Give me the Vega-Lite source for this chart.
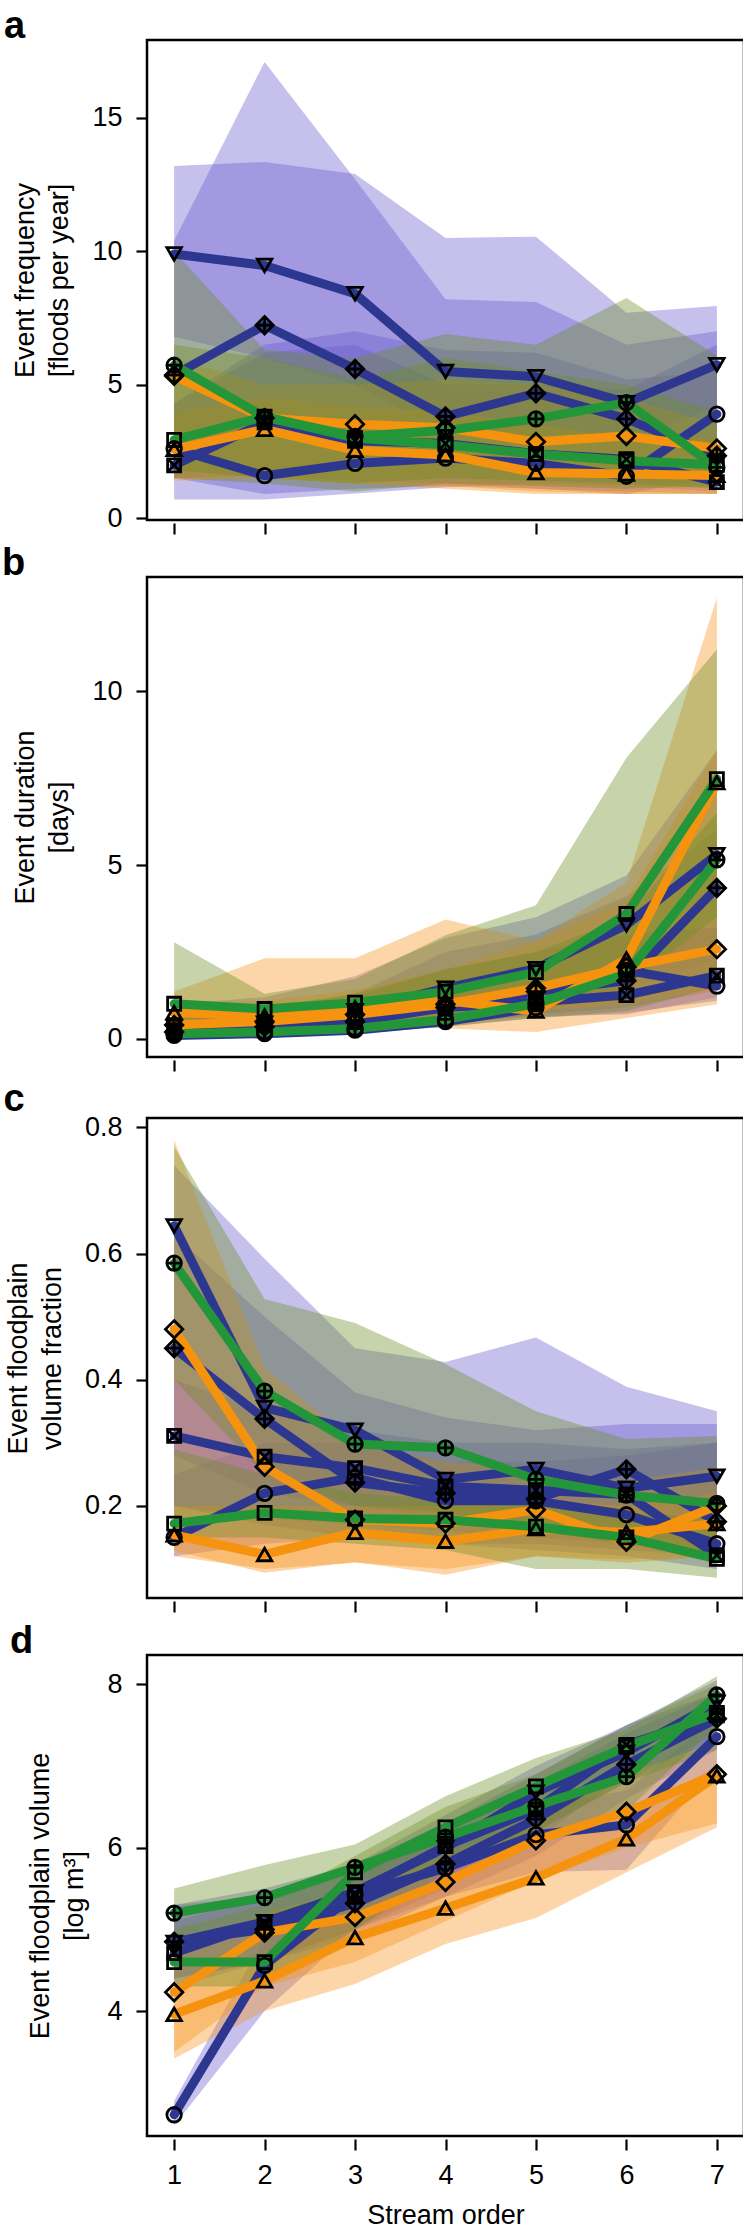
{
"$schema":"https://vega.github.io/schema/vega-lite/v6.json",
"padding":{"left":0,"right":0,"top":6,"bottom":0},
"spacing":6,
"config":{"view":{"stroke":"black","strokeWidth":2.5},"axis":{"domain":false,"grid":false,"tickColor":"black","tickWidth":2.2,"tickSize":11,"labelFont":"Liberation Sans","labelFontSize":27,"labelColor":"black","titleFont":"Liberation Sans","titleFontSize":27,"titleFontWeight":"normal","titleColor":"black","titleLineHeight":34},"title":{"font":"Liberation Sans","fontSize":38,"fontWeight":"bold","color":"black","anchor":"start","frame":"bounds","baseline":"alphabetic","offset":-6}},
"datasets":{"d":[
{"p":"a","s":"tri_down","x":1,"y":9.9,"lo":6.8,"hi":13.2},{"p":"a","s":"tri_down","x":2,"y":9.47,"lo":6.0,"hi":13.35},{"p":"a","s":"tri_down","x":3,"y":8.41,"lo":5.0,"hi":12.9},{"p":"a","s":"tri_down","x":4,"y":5.5,"lo":3.2,"hi":10.5},{"p":"a","s":"tri_down","x":5,"y":5.3,"lo":3.0,"hi":10.55},{"p":"a","s":"tri_down","x":6,"y":4.33,"lo":2.8,"hi":7.7},{"p":"a","s":"tri_down","x":7,"y":5.75,"lo":4.2,"hi":7.95},
{"p":"a","s":"diamond_plus","x":1,"y":5.36,"lo":0.7,"hi":10.4},{"p":"a","s":"diamond_plus","x":2,"y":7.23,"lo":0.7,"hi":17.1},{"p":"a","s":"diamond_plus","x":3,"y":5.59,"lo":0.92,"hi":12.7},{"p":"a","s":"diamond_plus","x":4,"y":3.81,"lo":1.16,"hi":8.2},{"p":"a","s":"diamond_plus","x":5,"y":4.68,"lo":1.3,"hi":8.1},{"p":"a","s":"diamond_plus","x":6,"y":3.72,"lo":1.2,"hi":6.5},{"p":"a","s":"diamond_plus","x":7,"y":2.34,"lo":1.0,"hi":7.0},
{"p":"a","s":"circle","x":1,"y":2.6,"lo":1.5,"hi":4.3},{"p":"a","s":"circle","x":2,"y":1.59,"lo":0.9,"hi":6.2},{"p":"a","s":"circle","x":3,"y":2.05,"lo":1.1,"hi":6.5},{"p":"a","s":"circle","x":4,"y":2.25,"lo":1.2,"hi":5.0},{"p":"a","s":"circle","x":5,"y":2.05,"lo":1.1,"hi":5.0},{"p":"a","s":"circle","x":6,"y":1.57,"lo":0.9,"hi":4.8},{"p":"a","s":"circle","x":7,"y":3.9,"lo":1.5,"hi":6.5},
{"p":"a","s":"square_x","x":1,"y":1.98,"lo":1.5,"hi":4.3},{"p":"a","s":"square_x","x":2,"y":3.59,"lo":1.6,"hi":6.5},{"p":"a","s":"square_x","x":3,"y":2.9,"lo":1.4,"hi":7.0},{"p":"a","s":"square_x","x":4,"y":2.8,"lo":1.3,"hi":6.3},{"p":"a","s":"square_x","x":5,"y":2.41,"lo":1.1,"hi":6.2},{"p":"a","s":"square_x","x":6,"y":2.21,"lo":1.0,"hi":5.2},{"p":"a","s":"square_x","x":7,"y":1.35,"lo":0.9,"hi":5.5},
{"p":"a","s":"diamond","x":1,"y":5.33,"lo":1.5,"hi":6.0},{"p":"a","s":"diamond","x":2,"y":3.75,"lo":1.5,"hi":5.0},{"p":"a","s":"diamond","x":3,"y":3.52,"lo":1.3,"hi":5.0},{"p":"a","s":"diamond","x":4,"y":3.39,"lo":1.2,"hi":5.2},{"p":"a","s":"diamond","x":5,"y":2.86,"lo":1.0,"hi":5.0},{"p":"a","s":"diamond","x":6,"y":3.08,"lo":0.9,"hi":4.5},{"p":"a","s":"diamond","x":7,"y":2.61,"lo":0.9,"hi":3.5},
{"p":"a","s":"tri_up","x":1,"y":2.58,"lo":1.4,"hi":4.0},{"p":"a","s":"tri_up","x":2,"y":3.33,"lo":1.5,"hi":4.5},{"p":"a","s":"tri_up","x":3,"y":2.54,"lo":1.3,"hi":4.2},{"p":"a","s":"tri_up","x":4,"y":2.37,"lo":1.1,"hi":4.0},{"p":"a","s":"tri_up","x":5,"y":1.71,"lo":0.9,"hi":3.5},{"p":"a","s":"tri_up","x":6,"y":1.65,"lo":0.9,"hi":3.0},{"p":"a","s":"tri_up","x":7,"y":1.6,"lo":0.9,"hi":3.0},
{"p":"a","s":"circle_plus","x":1,"y":5.73,"lo":1.8,"hi":10.0},{"p":"a","s":"circle_plus","x":2,"y":3.79,"lo":1.5,"hi":6.3},{"p":"a","s":"circle_plus","x":3,"y":3.06,"lo":1.3,"hi":6.0},{"p":"a","s":"circle_plus","x":4,"y":3.29,"lo":1.5,"hi":6.9},{"p":"a","s":"circle_plus","x":5,"y":3.72,"lo":1.4,"hi":6.5},{"p":"a","s":"circle_plus","x":6,"y":4.33,"lo":1.3,"hi":8.25},{"p":"a","s":"circle_plus","x":7,"y":1.9,"lo":1.1,"hi":6.1},
{"p":"a","s":"square","x":1,"y":2.93,"lo":1.5,"hi":6.5},{"p":"a","s":"square","x":2,"y":3.8,"lo":1.3,"hi":6.0},{"p":"a","s":"square","x":3,"y":3.0,"lo":1.0,"hi":5.2},{"p":"a","s":"square","x":4,"y":2.75,"lo":1.3,"hi":6.0},{"p":"a","s":"square","x":5,"y":2.4,"lo":1.2,"hi":5.5},{"p":"a","s":"square","x":6,"y":2.15,"lo":1.1,"hi":5.0},{"p":"a","s":"square","x":7,"y":2.0,"lo":1.2,"hi":4.0},

{"p":"b","s":"tri_down","x":1,"y":0.35,"lo":0.1,"hi":1.0},{"p":"b","s":"tri_down","x":2,"y":0.45,"lo":0.2,"hi":1.2},{"p":"b","s":"tri_down","x":3,"y":0.81,"lo":0.3,"hi":1.8},{"p":"b","s":"tri_down","x":4,"y":1.46,"lo":0.6,"hi":2.9},{"p":"b","s":"tri_down","x":5,"y":2.02,"lo":0.9,"hi":3.5},{"p":"b","s":"tri_down","x":6,"y":3.28,"lo":1.4,"hi":4.7},{"p":"b","s":"tri_down","x":7,"y":5.3,"lo":2.3,"hi":8.3},
{"p":"b","s":"diamond_plus","x":1,"y":0.2,"lo":0.05,"hi":0.6},{"p":"b","s":"diamond_plus","x":2,"y":0.35,"lo":0.1,"hi":0.8},{"p":"b","s":"diamond_plus","x":3,"y":0.5,"lo":0.2,"hi":1.3},{"p":"b","s":"diamond_plus","x":4,"y":0.9,"lo":0.4,"hi":2.5},{"p":"b","s":"diamond_plus","x":5,"y":1.36,"lo":0.7,"hi":3.0},{"p":"b","s":"diamond_plus","x":6,"y":1.67,"lo":0.9,"hi":4.1},{"p":"b","s":"diamond_plus","x":7,"y":4.34,"lo":1.4,"hi":6.0},
{"p":"b","s":"circle","x":1,"y":0.1,"lo":0.0,"hi":0.4},{"p":"b","s":"circle","x":2,"y":0.15,"lo":0.05,"hi":0.6},{"p":"b","s":"circle","x":3,"y":0.25,"lo":0.15,"hi":0.9},{"p":"b","s":"circle","x":4,"y":0.5,"lo":0.35,"hi":1.5},{"p":"b","s":"circle","x":5,"y":0.9,"lo":0.6,"hi":2.0},{"p":"b","s":"circle","x":6,"y":1.97,"lo":0.75,"hi":3.0},{"p":"b","s":"circle","x":7,"y":1.52,"lo":1.1,"hi":3.2},
{"p":"b","s":"square_x","x":1,"y":0.25,"lo":0.1,"hi":0.6},{"p":"b","s":"square_x","x":2,"y":0.4,"lo":0.15,"hi":0.8},{"p":"b","s":"square_x","x":3,"y":0.6,"lo":0.25,"hi":1.2},{"p":"b","s":"square_x","x":4,"y":0.9,"lo":0.45,"hi":2.0},{"p":"b","s":"square_x","x":5,"y":1.06,"lo":0.65,"hi":2.5},{"p":"b","s":"square_x","x":6,"y":1.26,"lo":0.7,"hi":3.0},{"p":"b","s":"square_x","x":7,"y":1.82,"lo":1.2,"hi":3.2},
{"p":"b","s":"diamond","x":1,"y":0.4,"lo":0.1,"hi":1.0},{"p":"b","s":"diamond","x":2,"y":0.5,"lo":0.15,"hi":1.1},{"p":"b","s":"diamond","x":3,"y":0.7,"lo":0.3,"hi":1.4},{"p":"b","s":"diamond","x":4,"y":1.0,"lo":0.5,"hi":2.0},{"p":"b","s":"diamond","x":5,"y":1.46,"lo":0.8,"hi":2.8},{"p":"b","s":"diamond","x":6,"y":2.07,"lo":1.0,"hi":4.0},{"p":"b","s":"diamond","x":7,"y":2.58,"lo":1.4,"hi":8.3},
{"p":"b","s":"tri_up","x":1,"y":0.76,"lo":0.3,"hi":1.36},{"p":"b","s":"tri_up","x":2,"y":0.66,"lo":0.3,"hi":2.32},{"p":"b","s":"tri_up","x":3,"y":0.9,"lo":0.4,"hi":2.32},{"p":"b","s":"tri_up","x":4,"y":1.1,"lo":0.3,"hi":3.43},{"p":"b","s":"tri_up","x":5,"y":0.8,"lo":0.2,"hi":2.83},{"p":"b","s":"tri_up","x":6,"y":2.3,"lo":0.6,"hi":4.5},{"p":"b","s":"tri_up","x":7,"y":7.37,"lo":1.0,"hi":12.68},
{"p":"b","s":"circle_plus","x":1,"y":0.15,"lo":0.05,"hi":0.8},{"p":"b","s":"circle_plus","x":2,"y":0.2,"lo":0.1,"hi":0.9},{"p":"b","s":"circle_plus","x":3,"y":0.3,"lo":0.15,"hi":1.3},{"p":"b","s":"circle_plus","x":4,"y":0.56,"lo":0.35,"hi":2.0},{"p":"b","s":"circle_plus","x":5,"y":1.01,"lo":0.6,"hi":2.5},{"p":"b","s":"circle_plus","x":6,"y":1.87,"lo":0.8,"hi":3.5},{"p":"b","s":"circle_plus","x":7,"y":5.15,"lo":1.5,"hi":6.5},
{"p":"b","s":"square","x":1,"y":1.01,"lo":0.6,"hi":2.78},{"p":"b","s":"square","x":2,"y":0.86,"lo":0.5,"hi":1.3},{"p":"b","s":"square","x":3,"y":1.04,"lo":0.6,"hi":1.72},{"p":"b","s":"square","x":4,"y":1.36,"lo":0.7,"hi":2.98},{"p":"b","s":"square","x":5,"y":1.92,"lo":0.8,"hi":3.84},{"p":"b","s":"square","x":6,"y":3.59,"lo":1.5,"hi":8.08},{"p":"b","s":"square","x":7,"y":7.47,"lo":3.5,"hi":11.2},

{"p":"c","s":"tri_down","x":1,"y":0.644,"lo":0.28,"hi":0.74},{"p":"c","s":"tri_down","x":2,"y":0.356,"lo":0.22,"hi":0.592},{"p":"c","s":"tri_down","x":3,"y":0.32,"lo":0.2,"hi":0.45},{"p":"c","s":"tri_down","x":4,"y":0.242,"lo":0.18,"hi":0.428},{"p":"c","s":"tri_down","x":5,"y":0.258,"lo":0.19,"hi":0.467},{"p":"c","s":"tri_down","x":6,"y":0.228,"lo":0.17,"hi":0.389},{"p":"c","s":"tri_down","x":7,"y":0.247,"lo":0.17,"hi":0.35},
{"p":"c","s":"diamond_plus","x":1,"y":0.45,"lo":0.2,"hi":0.63},{"p":"c","s":"diamond_plus","x":2,"y":0.338,"lo":0.17,"hi":0.5},{"p":"c","s":"diamond_plus","x":3,"y":0.237,"lo":0.15,"hi":0.38},{"p":"c","s":"diamond_plus","x":4,"y":0.22,"lo":0.14,"hi":0.34},{"p":"c","s":"diamond_plus","x":5,"y":0.211,"lo":0.14,"hi":0.32},{"p":"c","s":"diamond_plus","x":6,"y":0.258,"lo":0.13,"hi":0.33},{"p":"c","s":"diamond_plus","x":7,"y":0.175,"lo":0.12,"hi":0.33},
{"p":"c","s":"circle","x":1,"y":0.15,"lo":0.12,"hi":0.25},{"p":"c","s":"circle","x":2,"y":0.22,"lo":0.14,"hi":0.3},{"p":"c","s":"circle","x":3,"y":0.245,"lo":0.15,"hi":0.3},{"p":"c","s":"circle","x":4,"y":0.208,"lo":0.14,"hi":0.27},{"p":"c","s":"circle","x":5,"y":0.208,"lo":0.13,"hi":0.27},{"p":"c","s":"circle","x":6,"y":0.186,"lo":0.12,"hi":0.28},{"p":"c","s":"circle","x":7,"y":0.14,"lo":0.1,"hi":0.3},
{"p":"c","s":"square_x","x":1,"y":0.311,"lo":0.2,"hi":0.4},{"p":"c","s":"square_x","x":2,"y":0.278,"lo":0.18,"hi":0.35},{"p":"c","s":"square_x","x":3,"y":0.26,"lo":0.17,"hi":0.32},{"p":"c","s":"square_x","x":4,"y":0.231,"lo":0.16,"hi":0.3},{"p":"c","s":"square_x","x":5,"y":0.225,"lo":0.15,"hi":0.3},{"p":"c","s":"square_x","x":6,"y":0.218,"lo":0.14,"hi":0.29},{"p":"c","s":"square_x","x":7,"y":0.122,"lo":0.11,"hi":0.3},
{"p":"c","s":"diamond","x":1,"y":0.48,"lo":0.12,"hi":0.78},{"p":"c","s":"diamond","x":2,"y":0.262,"lo":0.1,"hi":0.42},{"p":"c","s":"diamond","x":3,"y":0.178,"lo":0.11,"hi":0.3},{"p":"c","s":"diamond","x":4,"y":0.172,"lo":0.1,"hi":0.27},{"p":"c","s":"diamond","x":5,"y":0.194,"lo":0.12,"hi":0.26},{"p":"c","s":"diamond","x":6,"y":0.143,"lo":0.11,"hi":0.24},{"p":"c","s":"diamond","x":7,"y":0.2,"lo":0.12,"hi":0.26},
{"p":"c","s":"tri_up","x":1,"y":0.154,"lo":0.129,"hi":0.2},{"p":"c","s":"tri_up","x":2,"y":0.123,"lo":0.094,"hi":0.2},{"p":"c","s":"tri_up","x":3,"y":0.158,"lo":0.111,"hi":0.2},{"p":"c","s":"tri_up","x":4,"y":0.144,"lo":0.091,"hi":0.2},{"p":"c","s":"tri_up","x":5,"y":0.164,"lo":0.12,"hi":0.21},{"p":"c","s":"tri_up","x":6,"y":0.158,"lo":0.115,"hi":0.2},{"p":"c","s":"tri_up","x":7,"y":0.172,"lo":0.12,"hi":0.22},
{"p":"c","s":"circle_plus","x":1,"y":0.585,"lo":0.4,"hi":0.77},{"p":"c","s":"circle_plus","x":2,"y":0.382,"lo":0.25,"hi":0.528},{"p":"c","s":"circle_plus","x":3,"y":0.298,"lo":0.2,"hi":0.49},{"p":"c","s":"circle_plus","x":4,"y":0.292,"lo":0.19,"hi":0.425},{"p":"c","s":"circle_plus","x":5,"y":0.242,"lo":0.16,"hi":0.35},{"p":"c","s":"circle_plus","x":6,"y":0.217,"lo":0.14,"hi":0.306},{"p":"c","s":"circle_plus","x":7,"y":0.204,"lo":0.12,"hi":0.311},
{"p":"c","s":"square","x":1,"y":0.172,"lo":0.15,"hi":0.29},{"p":"c","s":"square","x":2,"y":0.189,"lo":0.15,"hi":0.25},{"p":"c","s":"square","x":3,"y":0.18,"lo":0.14,"hi":0.22},{"p":"c","s":"square","x":4,"y":0.178,"lo":0.13,"hi":0.21},{"p":"c","s":"square","x":5,"y":0.167,"lo":0.1,"hi":0.2},{"p":"c","s":"square","x":6,"y":0.15,"lo":0.1,"hi":0.19},{"p":"c","s":"square","x":7,"y":0.116,"lo":0.086,"hi":0.18},

{"p":"d","s":"tri_down","x":1,"y":4.84,"lo":4.4,"hi":5.3},{"p":"d","s":"tri_down","x":2,"y":5.09,"lo":4.6,"hi":5.5},{"p":"d","s":"tri_down","x":3,"y":5.46,"lo":5.0,"hi":5.8},{"p":"d","s":"tri_down","x":4,"y":6.0,"lo":5.5,"hi":6.4},{"p":"d","s":"tri_down","x":5,"y":6.68,"lo":6.2,"hi":7.0},{"p":"d","s":"tri_down","x":6,"y":7.17,"lo":6.8,"hi":7.5},{"p":"d","s":"tri_down","x":7,"y":7.78,"lo":7.4,"hi":8.05},
{"p":"d","s":"diamond_plus","x":1,"y":4.85,"lo":4.4,"hi":5.3},{"p":"d","s":"diamond_plus","x":2,"y":5.0,"lo":4.6,"hi":5.4},{"p":"d","s":"diamond_plus","x":3,"y":5.32,"lo":4.9,"hi":5.7},{"p":"d","s":"diamond_plus","x":4,"y":5.8,"lo":5.4,"hi":6.2},{"p":"d","s":"diamond_plus","x":5,"y":6.35,"lo":5.9,"hi":6.8},{"p":"d","s":"diamond_plus","x":6,"y":7.02,"lo":6.6,"hi":7.4},{"p":"d","s":"diamond_plus","x":7,"y":7.58,"lo":7.2,"hi":7.9},
{"p":"d","s":"circle","x":1,"y":2.73,"lo":2.6,"hi":2.9},{"p":"d","s":"circle","x":2,"y":4.56,"lo":4.0,"hi":4.9},{"p":"d","s":"circle","x":3,"y":5.43,"lo":5.0,"hi":5.7},{"p":"d","s":"circle","x":4,"y":5.75,"lo":5.4,"hi":6.1},{"p":"d","s":"circle","x":5,"y":6.16,"lo":5.7,"hi":6.5},{"p":"d","s":"circle","x":6,"y":6.28,"lo":5.73,"hi":6.7},{"p":"d","s":"circle","x":7,"y":7.36,"lo":7.0,"hi":7.6},
{"p":"d","s":"square_x","x":1,"y":4.71,"lo":4.3,"hi":5.1},{"p":"d","s":"square_x","x":2,"y":5.09,"lo":4.6,"hi":5.4},{"p":"d","s":"square_x","x":3,"y":5.44,"lo":5.0,"hi":5.8},{"p":"d","s":"square_x","x":4,"y":6.02,"lo":5.6,"hi":6.3},{"p":"d","s":"square_x","x":5,"y":6.47,"lo":6.1,"hi":6.9},{"p":"d","s":"square_x","x":6,"y":7.26,"lo":6.9,"hi":7.5},{"p":"d","s":"square_x","x":7,"y":7.62,"lo":7.3,"hi":7.9},
{"p":"d","s":"diamond","x":1,"y":4.23,"lo":3.5,"hi":4.7},{"p":"d","s":"diamond","x":2,"y":4.96,"lo":4.3,"hi":5.2},{"p":"d","s":"diamond","x":3,"y":5.15,"lo":4.6,"hi":5.5},{"p":"d","s":"diamond","x":4,"y":5.58,"lo":5.1,"hi":5.9},{"p":"d","s":"diamond","x":5,"y":6.09,"lo":5.6,"hi":6.4},{"p":"d","s":"diamond","x":6,"y":6.44,"lo":6.0,"hi":6.9},{"p":"d","s":"diamond","x":7,"y":6.9,"lo":6.3,"hi":7.3},
{"p":"d","s":"tri_up","x":1,"y":3.96,"lo":3.42,"hi":4.3},{"p":"d","s":"tri_up","x":2,"y":4.37,"lo":4.0,"hi":4.7},{"p":"d","s":"tri_up","x":3,"y":4.9,"lo":4.33,"hi":5.2},{"p":"d","s":"tri_up","x":4,"y":5.26,"lo":4.82,"hi":5.6},{"p":"d","s":"tri_up","x":5,"y":5.63,"lo":5.14,"hi":6.0},{"p":"d","s":"tri_up","x":6,"y":6.11,"lo":5.7,"hi":6.4},{"p":"d","s":"tri_up","x":7,"y":6.88,"lo":6.25,"hi":7.0},
{"p":"d","s":"circle_plus","x":1,"y":5.2,"lo":4.85,"hi":5.5},{"p":"d","s":"circle_plus","x":2,"y":5.39,"lo":5.1,"hi":5.79},{"p":"d","s":"circle_plus","x":3,"y":5.76,"lo":5.4,"hi":6.04},{"p":"d","s":"circle_plus","x":4,"y":6.13,"lo":5.75,"hi":6.63},{"p":"d","s":"circle_plus","x":5,"y":6.51,"lo":6.1,"hi":7.1},{"p":"d","s":"circle_plus","x":6,"y":6.87,"lo":6.45,"hi":7.45},{"p":"d","s":"circle_plus","x":7,"y":7.87,"lo":7.5,"hi":8.1},
{"p":"d","s":"square","x":1,"y":4.6,"lo":4.3,"hi":5.0},{"p":"d","s":"square","x":2,"y":4.6,"lo":4.3,"hi":5.3},{"p":"d","s":"square","x":3,"y":5.7,"lo":5.0,"hi":5.9},{"p":"d","s":"square","x":4,"y":6.25,"lo":5.7,"hi":6.5},{"p":"d","s":"square","x":5,"y":6.75,"lo":6.2,"hi":6.9},{"p":"d","s":"square","x":6,"y":7.24,"lo":6.8,"hi":7.5},{"p":"d","s":"square","x":7,"y":7.65,"lo":7.2,"hi":8.0}
]},
"vconcat":[
{"width":597,"height":480,"title":{"text":"a","dx":-8},"data":{"name":"d"},"transform":[{"filter":"datum.p==='a'"}],
"encoding":{"x":{"field":"x","type":"quantitative","scale":{"domain":[0.7,7.3],"nice":false,"zero":false},"axis":{"values":[1,2,3,4,5,6,7],"labels":false,"title":null,"offset":3}},
"y":{"field":"y","type":"quantitative","scale":{"domain":[-0.07,17.92],"nice":false,"zero":false},"axis":{"values":[0,5,10,15],"title":["Event frequency","[floods per year]"],"labelPadding":14,"titlePadding":18}}},
"layer":[
{"mark":{"type":"area","fillOpacity":0.38,"strokeWidth":0},"encoding":{"y":{"field":"lo","type":"quantitative","scale":{"domain":[-0.07,17.92],"nice":false,"zero":false}},"y2":{"field":"hi"},"fill":{"field":"s","type":"nominal","scale":{"domain":["tri_down","diamond_plus","circle","square_x","diamond","tri_up","circle_plus","square"],"range":["#6a5acd","#6a5acd","#6a5acd","#6a5acd","#f7941d","#f7941d","#6b8e23","#6b8e23"]},"legend":null}}},
{"mark":{"type":"line","strokeWidth":9,"strokeJoin":"round","strokeCap":"round"},"encoding":{"stroke":{"field":"s","type":"nominal","scale":{"domain":["tri_down","diamond_plus","circle","square_x","diamond","tri_up","circle_plus","square"],"range":["#2e3790","#2e3790","#2e3790","#2e3790","#f5930f","#f5930f","#239639","#239639"]},"legend":null}}},
{"mark":{"type":"point","filled":false,"color":"black","strokeWidth":2.8,"size":210,"opacity":1},"encoding":{"shape":{"field":"s","type":"nominal","scale":{"domain":["tri_down","diamond_plus","circle","square_x","diamond","tri_up","circle_plus","square"],"range":["triangle-down","M0,-1.2L1.2,0L0,1.2L-1.2,0Z M-1.2,0L1.2,0 M0,-1.2L0,1.2","circle","M-0.9,-0.9L0.9,-0.9L0.9,0.9L-0.9,0.9Z M-0.9,-0.9L0.9,0.9 M0.9,-0.9L-0.9,0.9","M0,-1.2L1.2,0L0,1.2L-1.2,0Z","triangle-up","M1,0A1,1 0 1,1 -1,0A1,1 0 1,1 1,0Z M-1,0L1,0 M0,-1L0,1","M-0.9,-0.9L0.9,-0.9L0.9,0.9L-0.9,0.9Z"]},"legend":null}}}
]},
{"width":597,"height":480,"title":{"text":"b","dx":-10},"data":{"name":"d"},"transform":[{"filter":"datum.p==='b'"}],
"encoding":{"x":{"field":"x","type":"quantitative","scale":{"domain":[0.7,7.3],"nice":false,"zero":false},"axis":{"values":[1,2,3,4,5,6,7],"labels":false,"title":null,"offset":3}},
"y":{"field":"y","type":"quantitative","scale":{"domain":[-0.52,13.28],"nice":false,"zero":false},"axis":{"values":[0,5,10],"title":["Event duration","[days]"],"labelPadding":14,"titlePadding":18}}},
"layer":[
{"mark":{"type":"area","fillOpacity":0.38,"strokeWidth":0},"encoding":{"y":{"field":"lo","type":"quantitative","scale":{"domain":[-0.52,13.28],"nice":false,"zero":false}},"y2":{"field":"hi"},"fill":{"field":"s","type":"nominal","scale":{"domain":["tri_down","diamond_plus","circle","square_x","diamond","tri_up","circle_plus","square"],"range":["#6a5acd","#6a5acd","#6a5acd","#6a5acd","#f7941d","#f7941d","#6b8e23","#6b8e23"]},"legend":null}}},
{"mark":{"type":"line","strokeWidth":9,"strokeJoin":"round","strokeCap":"round"},"encoding":{"stroke":{"field":"s","type":"nominal","scale":{"domain":["tri_down","diamond_plus","circle","square_x","diamond","tri_up","circle_plus","square"],"range":["#2e3790","#2e3790","#2e3790","#2e3790","#f5930f","#f5930f","#239639","#239639"]},"legend":null}}},
{"mark":{"type":"point","filled":false,"color":"black","strokeWidth":2.8,"size":210,"opacity":1},"encoding":{"shape":{"field":"s","type":"nominal","scale":{"domain":["tri_down","diamond_plus","circle","square_x","diamond","tri_up","circle_plus","square"],"range":["triangle-down","M0,-1.2L1.2,0L0,1.2L-1.2,0Z M-1.2,0L1.2,0 M0,-1.2L0,1.2","circle","M-0.9,-0.9L0.9,-0.9L0.9,0.9L-0.9,0.9Z M-0.9,-0.9L0.9,0.9 M0.9,-0.9L-0.9,0.9","M0,-1.2L1.2,0L0,1.2L-1.2,0Z","triangle-up","M1,0A1,1 0 1,1 -1,0A1,1 0 1,1 1,0Z M-1,0L1,0 M0,-1L0,1","M-0.9,-0.9L0.9,-0.9L0.9,0.9L-0.9,0.9Z"]},"legend":null}}}
]},
{"width":597,"height":480,"title":{"text":"c","dx":-1},"data":{"name":"d"},"transform":[{"filter":"datum.p==='c'"}],
"encoding":{"x":{"field":"x","type":"quantitative","scale":{"domain":[0.7,7.3],"nice":false,"zero":false},"axis":{"values":[1,2,3,4,5,6,7],"labels":false,"title":null,"offset":3}},
"y":{"field":"y","type":"quantitative","scale":{"domain":[0.054,0.815],"nice":false,"zero":false},"axis":{"values":[0.2,0.4,0.6,0.8],"format":".1f","title":["Event floodplain","volume fraction"],"labelPadding":14,"titlePadding":18}}},
"layer":[
{"mark":{"type":"area","fillOpacity":0.38,"strokeWidth":0},"encoding":{"y":{"field":"lo","type":"quantitative","scale":{"domain":[0.054,0.815],"nice":false,"zero":false}},"y2":{"field":"hi"},"fill":{"field":"s","type":"nominal","scale":{"domain":["tri_down","diamond_plus","circle","square_x","diamond","tri_up","circle_plus","square"],"range":["#6a5acd","#6a5acd","#6a5acd","#6a5acd","#f7941d","#f7941d","#6b8e23","#6b8e23"]},"legend":null}}},
{"mark":{"type":"line","strokeWidth":9,"strokeJoin":"round","strokeCap":"round"},"encoding":{"stroke":{"field":"s","type":"nominal","scale":{"domain":["tri_down","diamond_plus","circle","square_x","diamond","tri_up","circle_plus","square"],"range":["#2e3790","#2e3790","#2e3790","#2e3790","#f5930f","#f5930f","#239639","#239639"]},"legend":null}}},
{"mark":{"type":"point","filled":false,"color":"black","strokeWidth":2.8,"size":210,"opacity":1},"encoding":{"shape":{"field":"s","type":"nominal","scale":{"domain":["tri_down","diamond_plus","circle","square_x","diamond","tri_up","circle_plus","square"],"range":["triangle-down","M0,-1.2L1.2,0L0,1.2L-1.2,0Z M-1.2,0L1.2,0 M0,-1.2L0,1.2","circle","M-0.9,-0.9L0.9,-0.9L0.9,0.9L-0.9,0.9Z M-0.9,-0.9L0.9,0.9 M0.9,-0.9L-0.9,0.9","M0,-1.2L1.2,0L0,1.2L-1.2,0Z","triangle-up","M1,0A1,1 0 1,1 -1,0A1,1 0 1,1 1,0Z M-1,0L1,0 M0,-1L0,1","M-0.9,-0.9L0.9,-0.9L0.9,0.9L-0.9,0.9Z"]},"legend":null}}}
]},
{"width":597,"height":481,"title":{"text":"d","dx":-17},"data":{"name":"d"},"transform":[{"filter":"datum.p==='d'"}],
"encoding":{"x":{"field":"x","type":"quantitative","scale":{"domain":[0.7,7.3],"nice":false,"zero":false},"axis":{"values":[1,2,3,4,5,6,7],"title":"Stream order","offset":3,"labelPadding":12,"titlePadding":14}},
"y":{"field":"y","type":"quantitative","scale":{"domain":[2.47,8.36],"nice":false,"zero":false},"axis":{"values":[4,6,8],"title":["Event floodplain volume","[log m³]"],"labelPadding":14,"titlePadding":18}}},
"layer":[
{"mark":{"type":"area","fillOpacity":0.38,"strokeWidth":0},"encoding":{"y":{"field":"lo","type":"quantitative","scale":{"domain":[2.47,8.36],"nice":false,"zero":false}},"y2":{"field":"hi"},"fill":{"field":"s","type":"nominal","scale":{"domain":["tri_down","diamond_plus","circle","square_x","diamond","tri_up","circle_plus","square"],"range":["#6a5acd","#6a5acd","#6a5acd","#6a5acd","#f7941d","#f7941d","#6b8e23","#6b8e23"]},"legend":null}}},
{"mark":{"type":"line","strokeWidth":9,"strokeJoin":"round","strokeCap":"round"},"encoding":{"stroke":{"field":"s","type":"nominal","scale":{"domain":["tri_down","diamond_plus","circle","square_x","diamond","tri_up","circle_plus","square"],"range":["#2e3790","#2e3790","#2e3790","#2e3790","#f5930f","#f5930f","#239639","#239639"]},"legend":null}}},
{"mark":{"type":"point","filled":false,"color":"black","strokeWidth":2.8,"size":210,"opacity":1},"encoding":{"shape":{"field":"s","type":"nominal","scale":{"domain":["tri_down","diamond_plus","circle","square_x","diamond","tri_up","circle_plus","square"],"range":["triangle-down","M0,-1.2L1.2,0L0,1.2L-1.2,0Z M-1.2,0L1.2,0 M0,-1.2L0,1.2","circle","M-0.9,-0.9L0.9,-0.9L0.9,0.9L-0.9,0.9Z M-0.9,-0.9L0.9,0.9 M0.9,-0.9L-0.9,0.9","M0,-1.2L1.2,0L0,1.2L-1.2,0Z","triangle-up","M1,0A1,1 0 1,1 -1,0A1,1 0 1,1 1,0Z M-1,0L1,0 M0,-1L0,1","M-0.9,-0.9L0.9,-0.9L0.9,0.9L-0.9,0.9Z"]},"legend":null}}}
]}
]
}
